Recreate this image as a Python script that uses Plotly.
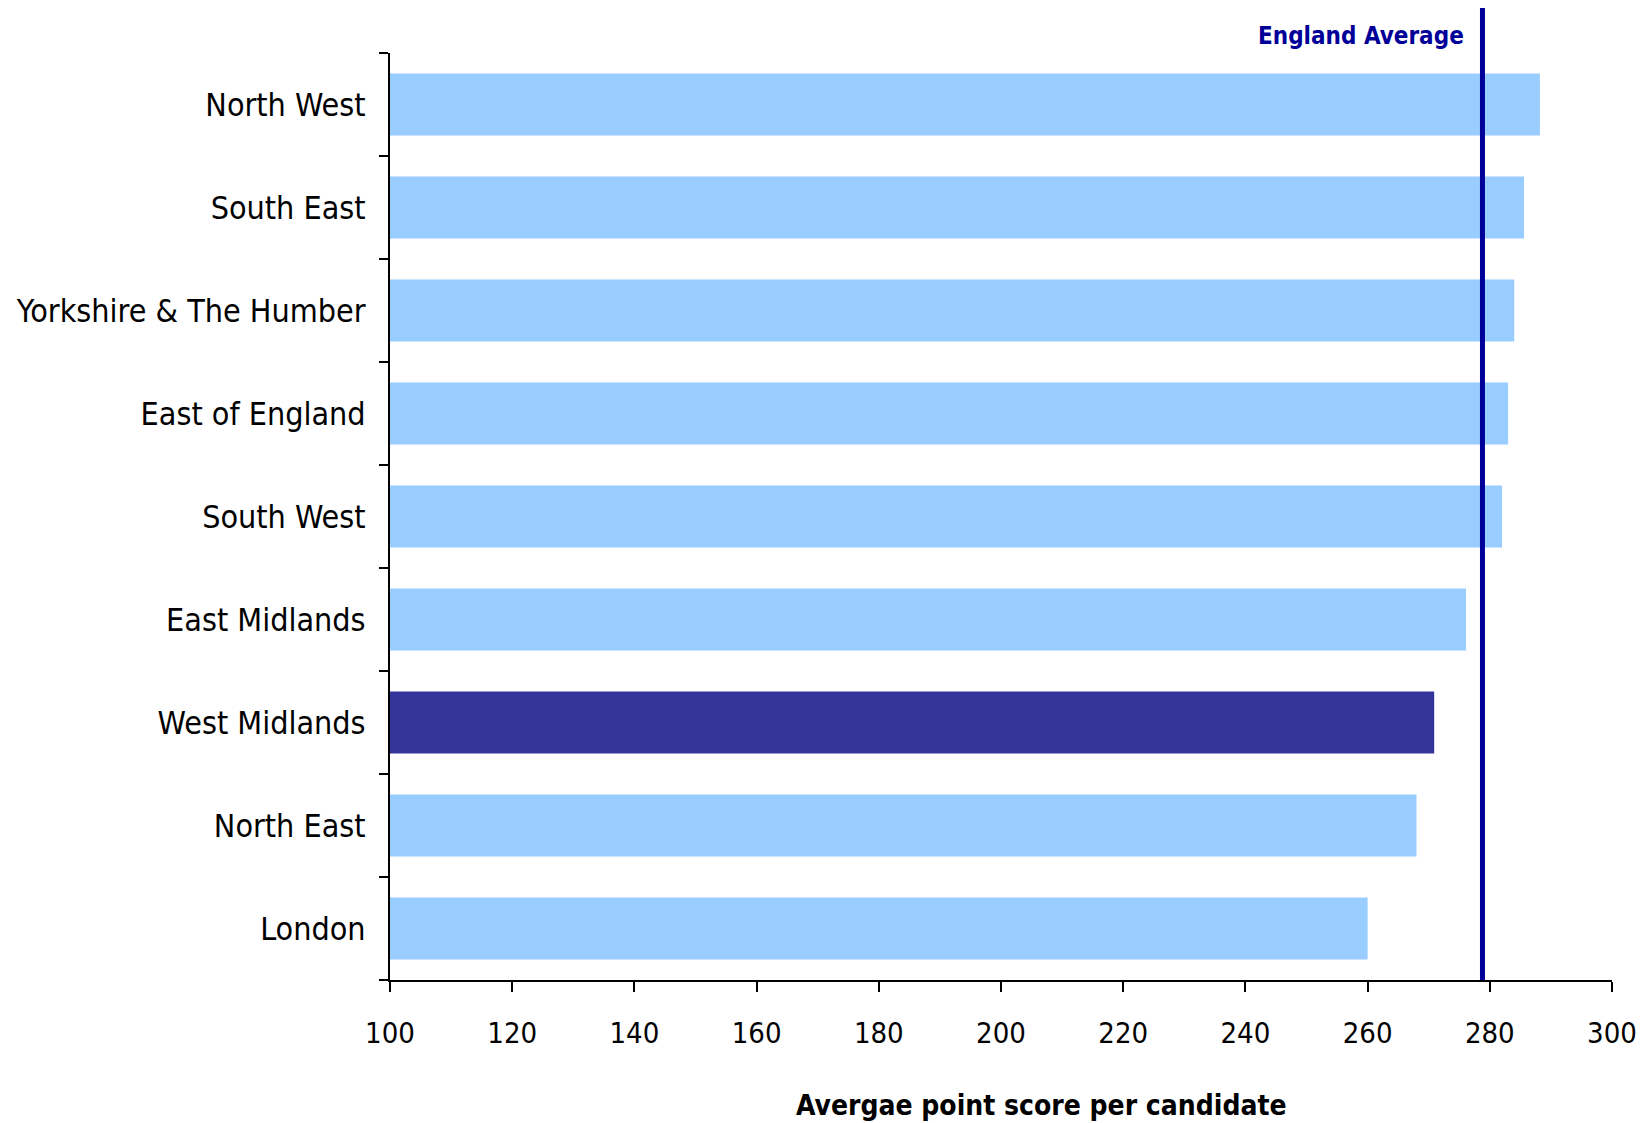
import plotly.graph_objects as go

regions = ["London", "North East", "West Midlands", "East Midlands", "South West",
           "East of England", "Yorkshire & The Humber", "South East", "North West"]
scores = [260.0, 268.0, 270.9, 276.1, 282.0, 283.0, 284.0, 285.6, 288.2]
highlight = "West Midlands"
england_average = 278.8
x_ticks = [100, 120, 140, 160, 180, 200, 220, 240, 260, 280, 300]

FONT = "DejaVu Sans Condensed, Liberation Sans, sans-serif"
colors = ["#333399" if r == highlight else "#99CCFF" for r in regions]

fig = go.Figure()
fig.add_trace(go.Bar(
    y=regions, x=scores, base=0, orientation="h",
    marker=dict(color=colors, line=dict(width=0)),
    width=0.6, showlegend=False, hoverinfo="x+y",
))

# page body has an 8px margin; figure is sized/placed to compensate
OFF = 8
PLOT_TOP, PLOT_BOTTOM, PLOT_LEFT, PLOT_RIGHT = 53, 980, 390, 1612
W, H = 1651 - OFF, 1123 - OFF
L, T = PLOT_LEFT - OFF, PLOT_TOP - OFF
R = W - (PLOT_RIGHT - OFF)
B = H - (PLOT_BOTTOM - OFF)
plot_h = H - T - B
plot_w = W - L - R

fig.update_layout(
    width=W, height=H,
    margin=dict(l=L, r=R, t=T, b=B, autoexpand=False),
    plot_bgcolor="white", paper_bgcolor="white",
    font=dict(family=FONT, color="black", size=30),
    xaxis=dict(
        range=[100, 300], tickvals=x_ticks, ticktext=[str(v) for v in x_ticks],
        showgrid=False, zeroline=False, showline=True, linecolor="black", linewidth=2,
        ticks="outside", ticklen=10, tickwidth=2, tickcolor="black",
        tickfont=dict(size=29, family=FONT), ticklabelstandoff=16,
    ),
    yaxis=dict(
        range=[-0.5, 8.5], categoryorder="array", categoryarray=regions,
        showgrid=False, zeroline=False, showline=True, linecolor="black", linewidth=2,
        ticks="outside", ticklen=9, tickwidth=2, tickcolor="black",
        tickson="boundaries", tickfont=dict(size=32, family=FONT), ticklabelstandoff=16,
    ),
    bargap=0.4,
)

fig.add_shape(type="line", xref="x", yref="paper",
              x0=england_average, x1=england_average,
              y0=0, y1=(PLOT_BOTTOM - 7) / plot_h,
              line=dict(color="#000099", width=5), layer="above")

fig.add_annotation(x=england_average, y=(PLOT_BOTTOM - 36) / plot_h, xref="x", yref="paper",
                   text="<b>England Average</b>", showarrow=False,
                   xanchor="right", yanchor="middle", xshift=-16,
                   font=dict(color="#000099", size=24, family=FONT))

fig.add_annotation(x=(1041 - PLOT_LEFT) / plot_w, y=-(1105 - PLOT_BOTTOM) / plot_h,
                   xref="paper", yref="paper",
                   text="<b>Avergae point score per candidate</b>", showarrow=False,
                   xanchor="center", yanchor="middle",
                   font=dict(color="black", size=28, family=FONT))

fig.write_html("out.html")
